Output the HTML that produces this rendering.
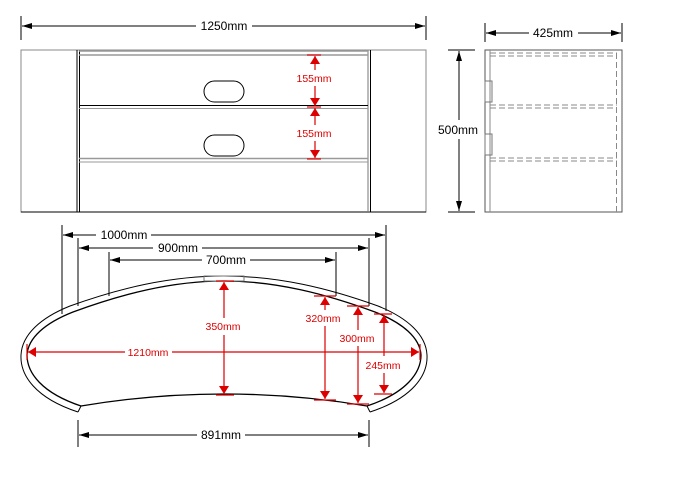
<!DOCTYPE html>
<html><head><style>
body{margin:0;background:#fff;}
svg{display:block;font-family:"Liberation Sans",sans-serif;}
</style></head><body>
<svg width="681" height="486" viewBox="0 0 681 486" xmlns="http://www.w3.org/2000/svg">
<defs>
<marker id="a" viewBox="0 0 10 6" refX="10" refY="3" markerWidth="10" markerHeight="6" orient="auto-start-reverse" markerUnits="userSpaceOnUse"><path d="M0,0L10,3L0,6z" fill="#000"/></marker>
<marker id="r" viewBox="0 0 8 12" refX="8" refY="6" markerWidth="8" markerHeight="12" orient="auto-start-reverse" markerUnits="userSpaceOnUse"><path d="M0,1L8,6L0,11z" fill="#d00"/></marker>
</defs>
<g stroke="#000" fill="none" stroke-width="1">
<line x1="21" y1="16" x2="21" y2="40"/><line x1="426" y1="16" x2="426" y2="40"/>
<line x1="22" y1="26" x2="196" y2="26" marker-start="url(#a)"/><line x1="252" y1="26" x2="425" y2="26" marker-end="url(#a)"/>
<rect x="21" y="50" width="405" height="162" stroke="#888"/>
<line x1="21" y1="212" x2="426" y2="212"/>
<line x1="77" y1="50" x2="77" y2="212"/><line x1="79.5" y1="50" x2="79.5" y2="212"/>
<line x1="368" y1="50" x2="368" y2="212" stroke="#777"/><line x1="370.5" y1="50" x2="370.5" y2="212"/>
<line x1="79" y1="51" x2="368" y2="51" stroke="#999" stroke-width="1.5"/>
<line x1="79" y1="55" x2="368" y2="55" stroke="#999" stroke-width="1.5"/>
<line x1="79" y1="105.5" x2="368" y2="105.5"/>
<line x1="79" y1="108.5" x2="368" y2="108.5" stroke="#999"/>
<line x1="79" y1="158.5" x2="368" y2="158.5" stroke="#999" stroke-width="1.5"/>
<line x1="79" y1="162" x2="368" y2="162" stroke="#999"/>
<rect x="204" y="81" width="40" height="21" rx="10.5"/>
<rect x="204" y="135" width="40" height="21" rx="10.5"/>
<line x1="485" y1="23" x2="485" y2="42"/><line x1="622" y1="23" x2="622" y2="42"/>
<line x1="486" y1="33" x2="529" y2="33" marker-start="url(#a)"/><line x1="578" y1="33" x2="621" y2="33" marker-end="url(#a)"/>
<rect x="485" y="50" width="137" height="162" stroke="#555"/>
<line x1="490" y1="50" x2="490" y2="212" stroke="#888"/>
<g stroke="#888" stroke-dasharray="6,3">
<line x1="490" y1="53" x2="617" y2="53"/><line x1="490" y1="56" x2="617" y2="56"/>
<line x1="490" y1="105" x2="617" y2="105"/><line x1="490" y1="108" x2="617" y2="108"/>
<line x1="490" y1="158" x2="617" y2="158"/><line x1="490" y1="161" x2="617" y2="161"/>
<line x1="616.5" y1="53" x2="616.5" y2="212"/>
</g>
<rect x="485" y="81" width="7" height="21" stroke="#777"/>
<rect x="485" y="134" width="7" height="21" stroke="#777"/>
<line x1="448" y1="50" x2="475" y2="50"/><line x1="448" y1="212" x2="475" y2="212"/>
<line x1="459" y1="51" x2="459" y2="120" marker-start="url(#a)"/><line x1="459" y1="139" x2="459" y2="211" marker-end="url(#a)"/>
<line x1="62" y1="225" x2="62" y2="314"/><line x1="386" y1="225" x2="386" y2="311"/>
<line x1="63" y1="235" x2="96" y2="235" marker-start="url(#a)"/><line x1="151" y1="235" x2="385" y2="235" marker-end="url(#a)"/>
<line x1="78" y1="238" x2="78" y2="306"/><line x1="369" y1="238" x2="369" y2="306"/>
<line x1="79" y1="248" x2="153" y2="248" marker-start="url(#a)"/><line x1="202" y1="248" x2="368" y2="248" marker-end="url(#a)"/>
<line x1="109" y1="252" x2="109" y2="296"/><line x1="336" y1="252" x2="336" y2="296"/>
<line x1="110" y1="260" x2="202" y2="260" marker-start="url(#a)"/><line x1="250" y1="260" x2="335" y2="260" marker-end="url(#a)"/>
<path d="M78,412 C35,398 20,375 21,355 C22,335 40,318 70,306 C120,288 170,276 224,276 C278,276 328,288 378,306 C408,318 426,335 427,355 C428,375 413,398 370,412"/>
<path d="M81,406 C42,393 27,373 27,355 C28,338 45,323 73,312 C122,294 172,281 224,281 C276,281 326,294 375,312 C403,323 420,338 421,355 C421,373 406,393 367,406" stroke-width="1.3"/>
<line x1="78" y1="412" x2="81" y2="406"/><line x1="370" y1="412" x2="367" y2="406"/>
<path d="M81,406 Q224,382 367,406" stroke-width="1.3"/>
<rect x="204" y="276" width="40" height="5" stroke="#777"/>
<line x1="78" y1="420" x2="78" y2="447"/><line x1="369" y1="420" x2="369" y2="447"/>
<line x1="79" y1="435" x2="197" y2="435" marker-start="url(#a)"/><line x1="245" y1="435" x2="368" y2="435" marker-end="url(#a)"/>
</g>
<g stroke="#d00" fill="none" stroke-width="1.2">
<line x1="307" y1="55" x2="321" y2="55"/><line x1="307" y1="107" x2="321" y2="107"/><line x1="307" y1="159" x2="321" y2="159"/>
<line x1="315" y1="56" x2="315" y2="70" marker-start="url(#r)"/><line x1="315" y1="86" x2="315" y2="106" marker-end="url(#r)"/>
<line x1="315" y1="108" x2="315" y2="125" marker-start="url(#r)"/><line x1="315" y1="141" x2="315" y2="158" marker-end="url(#r)"/>
<line x1="28" y1="352" x2="125" y2="352" marker-start="url(#r)"/><line x1="172" y1="352" x2="419" y2="352" marker-end="url(#r)"/>
<line x1="27" y1="344" x2="27" y2="360"/><line x1="420" y1="344" x2="420" y2="360"/>
<line x1="216" y1="281" x2="234" y2="281"/><line x1="216" y1="395" x2="234" y2="395"/>
<line x1="224" y1="282" x2="224" y2="318" marker-start="url(#r)"/><line x1="224" y1="335" x2="224" y2="394" marker-end="url(#r)"/>
<line x1="314" y1="296" x2="336" y2="296"/><line x1="314" y1="400" x2="336" y2="400"/>
<line x1="325" y1="297" x2="325" y2="310" marker-start="url(#r)"/><line x1="325" y1="326" x2="325" y2="399" marker-end="url(#r)"/>
<line x1="347" y1="306" x2="369" y2="306"/><line x1="347" y1="404" x2="369" y2="404"/>
<line x1="358" y1="307" x2="358" y2="330" marker-start="url(#r)"/><line x1="358" y1="346" x2="358" y2="403" marker-end="url(#r)"/>
<line x1="374" y1="314" x2="392" y2="314"/><line x1="374" y1="394" x2="392" y2="394"/>
<line x1="384" y1="315" x2="384" y2="356" marker-start="url(#r)"/><line x1="384" y1="373" x2="384" y2="393" marker-end="url(#r)"/>
</g>
<g font-size="12" fill="#000" text-anchor="middle">
<text x="224" y="30">1250mm</text>
<text x="553" y="37">425mm</text>
<text x="458" y="134">500mm</text>
<text x="124" y="239">1000mm</text>
<text x="178" y="252">900mm</text>
<text x="226" y="264">700mm</text>
<text x="221" y="439">891mm</text>
</g>
<g font-size="10.5" fill="#d00" text-anchor="middle">
<text x="314" y="82">155mm</text>
<text x="314" y="137">155mm</text>
<text x="148" y="356">1210mm</text>
<text x="223" y="330">350mm</text>
<text x="323" y="322">320mm</text>
<text x="357" y="342">300mm</text>
<text x="383" y="369">245mm</text>
</g>
</svg>
</body></html>
